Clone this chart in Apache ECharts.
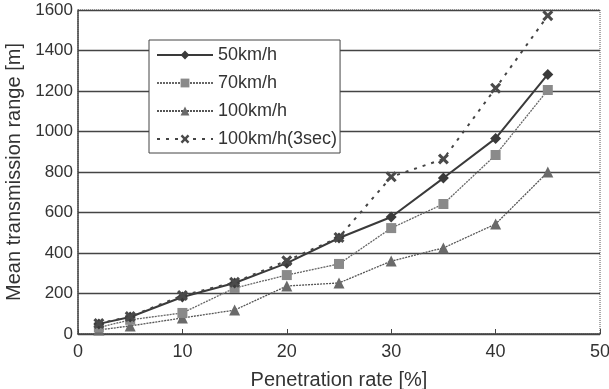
<!DOCTYPE html>
<html><head><meta charset="utf-8">
<script src="https://cdn.jsdelivr.net/npm/echarts@6/dist/echarts.min.js"></script>
<style>html,body{margin:0;padding:0;background:#fff}#c{width:609px;height:389px}</style>
</head><body><div id="c"></div>
<script>
const xValues = [2, 5, 10, 15, 20, 25, 30, 35, 40, 45];
const s50 = [50, 84, 183, 252, 350, 474, 578, 770, 966, 1282];
const s70 = [32, 70, 104, 227, 291, 346, 523, 642, 884, 1205];
const s100 = [20, 40, 79, 118, 237, 252, 360, 425, 543, 800];
const s100_3 = [52, 86, 190, 255, 362, 477, 776, 864, 1214, 1572];
const seriesNames = ['50km/h', '70km/h', '100km/h', '100km/h(3sec)'];
const xTicks = [0, 10, 20, 30, 40, 50];
const yTicks = [0, 200, 400, 600, 800, 1000, 1200, 1400, 1600];

const crossPath = 'path://M0,2L2,0L5,3L8,0L10,2L7,5L10,8L8,10L5,7L2,10L0,8L3,5Z';
const pair = arr => xValues.map((x, i) => [x, arr[i]]);
const font = 'Liberation Sans, Arial, sans-serif';

const chart = echarts.init(document.getElementById('c'), null, {renderer: 'canvas'});
chart.setOption({
  animation: false,
  backgroundColor: '#fff',
  grid: {left: 78, right: 9, top: 10, bottom: 55, containLabel: false, outerBoundsMode: 'none',
         show: true, borderColor: '#555', borderWidth: 1, borderType: 'dotted'},
  legend: {
    orient: 'vertical', left: 149, top: 40,
    padding: [6, 3, 5, 7], itemGap: 10, itemWidth: 56, itemHeight: 11,
    backgroundColor: '#fff', borderColor: '#444', borderWidth: 1,
    textStyle: {fontFamily: font, fontSize: 18, color: '#333'},
    data: seriesNames
  },
  xAxis: {
    type: 'value', min: 0, max: 50, interval: 10,
    name: 'Penetration rate [%]', nameLocation: 'middle', nameGap: 36,
    nameTextStyle: {fontFamily: font, fontSize: 20, color: '#333'},
    axisLine: {show: true, lineStyle: {color: '#444', width: 1.5}},
    axisTick: {show: true, inside: true, length: 5, lineStyle: {color: '#444'}},
    axisLabel: {fontFamily: font, fontSize: 18, color: '#333', margin: 9, formatter: v => xTicks.includes(v) ? String(v) : ''},
    splitLine: {show: false}
  },
  yAxis: {
    type: 'value', min: 0, max: 1600, interval: 200,
    name: 'Mean transmission range [m]', nameLocation: 'middle', nameGap: 50,
    nameTextStyle: {fontFamily: font, fontSize: 20, color: '#333'},
    axisLine: {show: true, lineStyle: {color: '#444', width: 1.5}},
    axisTick: {show: false},
    axisLabel: {fontFamily: font, fontSize: 17, color: '#333', margin: 5, formatter: v => yTicks.includes(v) ? String(v) : ''},
    splitLine: {show: true, lineStyle: {color: '#444', width: 1.3}}
  },
  series: [
    {name: seriesNames[0], type: 'line', data: pair(s50), symbol: 'diamond', symbolSize: 11,
     lineStyle: {color: '#3a3a3a', width: 2}, itemStyle: {color: '#3a3a3a'}, z: 5},
    {name: seriesNames[1], type: 'line', data: pair(s70), symbol: 'rect', symbolSize: 10,
     lineStyle: {color: '#666', width: 1.3, type: [2, 1]}, itemStyle: {color: '#8a8a8a'}, z: 4},
    {name: seriesNames[2], type: 'line', data: pair(s100), symbol: 'triangle', symbolSize: 11,
     lineStyle: {color: '#555', width: 1.3, type: [2, 1]}, itemStyle: {color: '#6a6a6a'}, z: 3},
    {name: seriesNames[3], type: 'line', data: pair(s100_3), symbol: crossPath, symbolSize: 11,
     lineStyle: {color: '#444', width: 2, type: [3, 6]}, itemStyle: {color: '#4a4a4a'}, z: 6}
  ]
});
</script></body></html>
